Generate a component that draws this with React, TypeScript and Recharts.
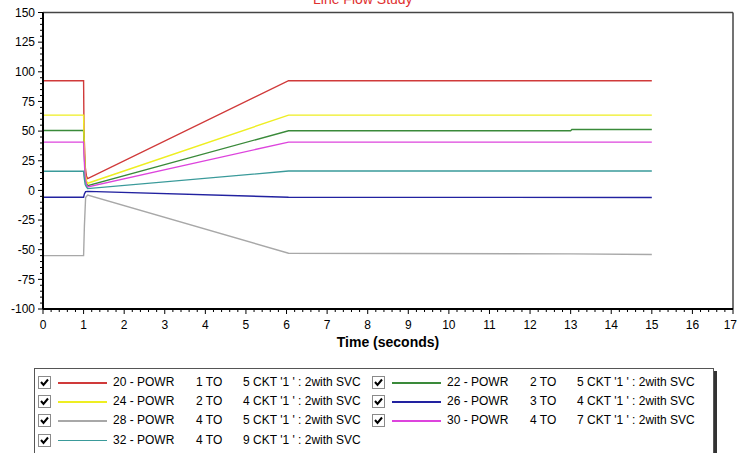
import React from 'react';
import { LineChart, Line, XAxis, YAxis, ReferenceLine } from 'recharts';

// ---- data ----
const xMajor = [0, 1, 2, 3, 4, 5, 6, 7, 8, 9, 10, 11, 12, 13, 14, 15, 16, 17];
const yMajor = [-100, -75, -50, -25, 0, 25, 50, 75, 100, 125, 150];

const redT = [0, 1, 1.01, 1.04, 1.07, 1.1, 6.05, 15];
const redV = [92.5, 92.5, 50, 20, 12, 10, 92.5, 92.5];
const yellowT = [0, 1, 1.01, 1.04, 1.07, 1.1, 6.05, 15];
const yellowV = [63.5, 63.5, 45, 14, 8, 6, 63.5, 63.5];
const greenT = [0, 1, 1.01, 1.04, 1.07, 1.1, 6.05, 13, 13.03, 15];
const greenV = [50.5, 50.5, 38, 12, 6, 4, 50.3, 50.3, 51.3, 51.3];
const magentaT = [0, 1, 1.01, 1.04, 1.07, 1.1, 6.05, 15];
const magentaV = [40.7, 40.7, 30, 10, 5, 3, 40.7, 40.7];
const tealT = [0, 1, 1.01, 1.04, 1.07, 1.1, 6.05, 15];
const tealV = [16.2, 16.2, 12, 5, 3, 1.5, 16.3, 16.3];
const blueT = [0, 1, 1.02, 1.05, 1.1, 6.05, 15];
const blueV = [-5.8, -5.8, -3, -1, -0.8, -5.8, -6];
const grayT = [0, 1, 1.02, 1.05, 1.1, 6.05, 13, 15];
const grayV = [-55, -55, -30, -6, -4, -53, -53.5, -54];

const seriesNames = ['20 - POWR', '22 - POWR', '24 - POWR', '26 - POWR', '28 - POWR', '30 - POWR', '32 - POWR'];
const seriesFrom = ['1 TO', '2 TO', '2 TO', '3 TO', '4 TO', '4 TO', '4 TO'];
const seriesTo = [
  "5 CKT '1 ' : 2with SVC",
  "5 CKT '1 ' : 2with SVC",
  "4 CKT '1 ' : 2with SVC",
  "4 CKT '1 ' : 2with SVC",
  "5 CKT '1 ' : 2with SVC",
  "7 CKT '1 ' : 2with SVC",
  "9 CKT '1 ' : 2with SVC",
];
const seriesColors = ['#d03a3a', '#3a8a3a', '#eeee22', '#2222a0', '#a8a8a8', '#dd44dd', '#3a9a9a'];
const seriesT = [redT, greenT, yellowT, blueT, grayT, magentaT, tealT];
const seriesV = [redV, greenV, yellowV, blueV, grayV, magentaV, tealV];

const toPoints = (t: number[], v: number[]) => t.map((x, i) => ({ t: x, v: v[i] }));

const withMinor = (major: number[], n: number) => {
  const out: number[] = [];
  for (let i = 0; i < major.length; i++) {
    out.push(major[i]);
    if (i < major.length - 1) {
      const step = (major[i + 1] - major[i]) / (n + 1);
      for (let k = 1; k <= n; k++) out.push(Math.round((major[i] + step * k) * 1000) / 1000);
    }
  }
  return out;
};
const xTicks = withMinor(xMajor, 4);
const yTicks = withMinor(yMajor, 4);
const isMajor = (arr: number[], v: number) => arr.some((m) => Math.abs(m - v) < 1e-6);

const FONT = '"Liberation Sans", Arial, sans-serif';

const XTick = (props: any) => {
  const { x, y, payload } = props;
  const major = isMajor(xMajor, payload.value);
  const last = Math.abs(payload.value - xMajor[xMajor.length - 1]) < 1e-6;
  return (
    <g>
      <line x1={x} x2={x} y1={y} y2={y + (major ? 5 : 3)} stroke="#000" strokeWidth={1} />
      {major && (
        <text
          x={last ? x + 4 : x}
          y={y + 11}
          dy="0.71em"
          textAnchor={last ? 'end' : 'middle'}
          fontSize={12}
          fontFamily={FONT}
          fill="#000"
        >
          {payload.value}
        </text>
      )}
    </g>
  );
};

const YTick = (props: any) => {
  const { x, y, payload } = props;
  const major = isMajor(yMajor, payload.value);
  return (
    <g>
      <line x1={x - (major ? 5 : 3)} x2={x} y1={y} y2={y} stroke="#000" strokeWidth={1} />
      {major && (
        <text x={x - 8} y={y} dy="0.355em" textAnchor="end" fontSize={12} fontFamily={FONT} fill="#000">
          {payload.value}
        </text>
      )}
    </g>
  );
};

const CheckBox = () => (
  <svg width={13} height={13} style={{ display: 'block' }}>
    <rect x={0.5} y={0.5} width={12} height={12} fill="#fff" stroke="#8a8a8a" />
    <polyline points="3,6 5.5,9 10,3.5" fill="none" stroke="#000" strokeWidth={2} />
  </svg>
);

const LegendItem = ({ i }: { i: number }) => (
  <div style={{ position: 'relative', width: 334, height: 19 }}>
    <div style={{ position: 'absolute', left: 0, top: 3 }}>
      <CheckBox />
    </div>
    <div style={{ position: 'absolute', left: 20, top: 9, width: 49, height: 1.5, background: seriesColors[i] }} />
    <span style={{ position: 'absolute', left: 75, top: 2, whiteSpace: 'pre' }}>{seriesNames[i]}</span>
    <span style={{ position: 'absolute', left: 158, top: 2, whiteSpace: 'pre' }}>{seriesFrom[i]}</span>
    <span style={{ position: 'absolute', left: 205, top: 2, whiteSpace: 'pre' }}>{seriesTo[i]}</span>
  </div>
);

export default function App() {
  const rows = [[0, 1], [2, 3], [4, 5], [6]];
  return (
    <div style={{ position: 'absolute', left: 0, top: 0, width: 738, height: 453, background: '#fff', overflow: 'hidden' }}>
      <LineChart width={738} height={360} margin={{ top: 12.5, right: 5, left: 7, bottom: 11 }}>
        <text x={313} y={4} fontSize={14} fontFamily={FONT} fill="#e03030">
          Line Flow Study
        </text>
        <XAxis
          dataKey="t"
          type="number"
          domain={[0, 17]}
          ticks={xTicks}
          interval={0}
          height={40}
          tickSize={0}
          tickMargin={0}
          tickLine={false}
          tick={<XTick />}
          axisLine={{ stroke: '#000', strokeWidth: 2 }}
          allowDataOverflow
          label={{ value: 'Time (seconds)', position: 'insideBottom', offset: 2, fontSize: 14, fontWeight: 'bold', fill: '#000', fontFamily: FONT }}
        />
        <YAxis
          type="number"
          domain={[-100, 150]}
          ticks={yTicks}
          interval={0}
          width={36}
          tickSize={0}
          tickMargin={0}
          tickLine={false}
          tick={<YTick />}
          axisLine={{ stroke: '#000', strokeWidth: 2 }}
          allowDataOverflow
        />
        <ReferenceLine y={150} stroke="#444" strokeWidth={1.5} />
        <ReferenceLine x={17} stroke="#444" strokeWidth={1.5} />
        {seriesT.map((t, i) => (
          <Line
            key={seriesNames[i]}
            data={toPoints(t, seriesV[i])}
            dataKey="v"
            type="linear"
            stroke={seriesColors[i]}
            strokeWidth={1.4}
            dot={false}
            activeDot={false}
            isAnimationActive={false}
          />
        ))}
      </LineChart>
      <div
        style={{
          position: 'absolute',
          left: 34,
          top: 368,
          width: 680,
          height: 90,
          border: '1px solid #555',
          boxShadow: '3px 3px 0 #333',
          background: '#fff',
          fontFamily: FONT,
          fontSize: 12,
          color: '#000',
          boxSizing: 'border-box',
          paddingTop: 4,
          paddingLeft: 3,
        }}
      >
        {rows.map((r, ri) => (
          <div key={ri} style={{ display: 'flex', height: 19.2 }}>
            {r.map((i) => (
              <LegendItem key={i} i={i} />
            ))}
          </div>
        ))}
      </div>
    </div>
  );
}
